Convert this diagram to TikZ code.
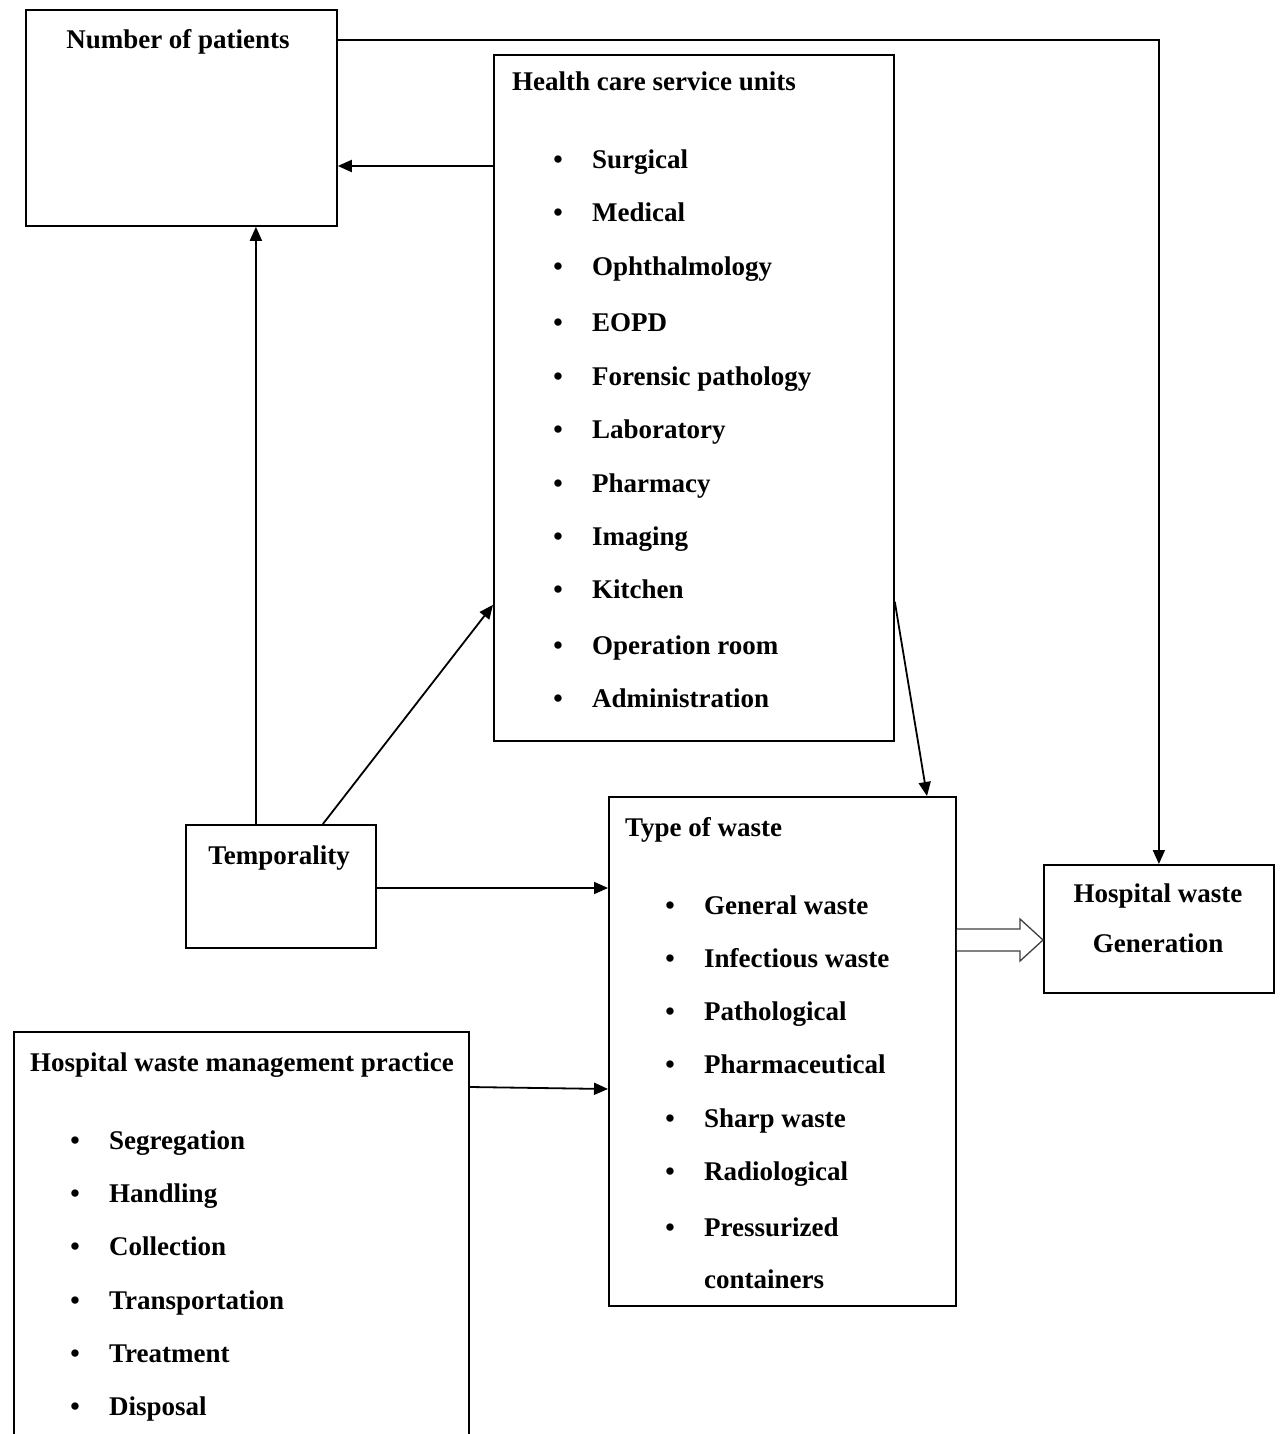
\documentclass[tikz,border=0pt]{standalone}
\usepackage{fontspec}
\setmainfont{Liberation Serif}
\usetikzlibrary{arrows.meta,calc}
\begin{document}
\begin{tikzpicture}[x=1pt,y=-1pt,
  box/.style={draw, line width=1.8pt, rectangle, anchor=north west, inner sep=0pt},
  lbl/.style={anchor=base west, inner sep=0pt, font=\bfseries\fontsize{27}{32}\selectfont},
  ctr/.style={anchor=base, inner sep=0pt, font=\bfseries\fontsize{27}{32}\selectfont},
  conn/.style={line width=1.8pt, -{Triangle[length=14pt,width=12pt]}},
  hollow/.style={line width=1.3pt, draw=black!75, fill=white}]
\useasboundingbox (0,0) rectangle (1280,1434);
\clip (0,0) rectangle (1280,1434);
\fill[white] (0,0) rectangle (1280,1434);

% boxes
\node[box, minimum width=311pt, minimum height=216pt] (np) at (25,9) {};
\node[box, minimum width=400pt, minimum height=686pt] (hc) at (493,54) {};
\node[box, minimum width=190pt, minimum height=123pt] (tp) at (185,824) {};
\node[box, minimum width=347pt, minimum height=509pt] (tw) at (608,796) {};
\node[box, minimum width=230pt, minimum height=128pt] (hg) at (1043,864) {};
\node[box, minimum width=455pt, minimum height=460pt] (hm) at (13,1031) {};

% titles
\node[ctr] (npt) at (178,49) {Number of patients};
\node[lbl] (hct) at (512,91) {Health care service units};
\node[ctr] (tpt) at (279,864) {Temporality};
\node[lbl] (twt) at (625,836) {Type of waste};
\node[ctr] (hgt1) at (1158,902) {Hospital waste};
\node[ctr] (hgt2) at (1158,952) {Generation};
\node[lbl] (hmt) at (30,1071) {Hospital waste management practice};

% health care items
\foreach \t/\yy [count=\i] in {Surgical/160, Medical/213, Ophthalmology/266, EOPD/322,
  Forensic pathology/376, Laboratory/429, Pharmacy/483, Imaging/536, Kitchen/589,
  Operation room/645, Administration/698}{
  \node[ctr] (hcb\i) at (558,\yy+9) {•};
  \node[lbl] (hci\i) at (592,\yy+9) {\t};
}

% type of waste items
\foreach \t/\yy [count=\i] in {General waste/905, Infectious waste/958, Pathological/1011,
  Pharmaceutical/1064, Sharp waste/1118, Radiological/1171, Pressurized/1227}{
  \node[ctr] (twb\i) at (670,\yy+9) {•};
  \node[lbl] (twi\i) at (704,\yy+9) {\t};
}
\node[lbl] (twi8) at (704,1288) {containers};

% management items
\foreach \t/\yy [count=\i] in {Segregation/1140, Handling/1193, Collection/1246,
  Transportation/1300, Treatment/1353, Disposal/1406}{
  \node[ctr] (hmb\i) at (75,\yy+9) {•};
  \node[lbl] (hmi\i) at (109,\yy+9) {\t};
}

% connectors
\draw[conn] ($(np.north east)+(0,31)$) -| (hg.north);
\draw[conn] ($(hc.north west)+(0,112)$) -- ($(np.north east)+(0,157)$);
\coordinate (tpa) at ($(tp.north)+(-25,0)$);
\draw[conn] (tpa) -- (tpa |- np.south);
\draw[conn] ($(tp.north)+(42,0)$) -- ($(hc.south west)+(0,-137)$);
\draw[conn] ($(hc.south east)+(0,-140)$) -- ($(tw.north west)+(319,0)$);
\draw[conn] ($(tp.north east)+(0,64)$) -- ($(tw.north west)+(0,92)$);
\draw[conn] ($(hm.north east)+(0,56)$) -- ($(tw.north west)+(0,293)$);

% hollow arrow
\coordinate (ha) at ($(tw.north east)+(0,144)$);
\coordinate (hb) at (hg.west |- ha);
\draw[hollow] ($(ha)+(0,-11)$) -- ($(hb)+(-23,-11)$) -- ($(hb)+(-23,-21)$) -- (hb)
  -- ($(hb)+(-23,21)$) -- ($(hb)+(-23,11)$) -- ($(ha)+(0,11)$);
\end{tikzpicture}
\end{document}
